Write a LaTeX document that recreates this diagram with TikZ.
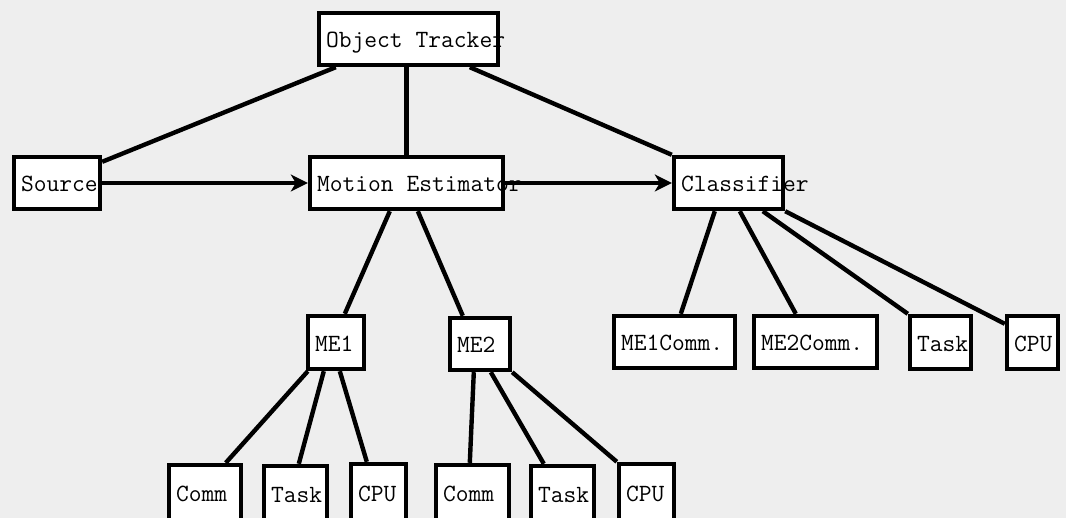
\documentclass[tikz,border=0pt]{standalone}
\usepackage{fontspec}
\usetikzlibrary{arrows.meta,calc}
\definecolor{bgc}{RGB}{238,238,238}
\tikzset{
  box/.style={draw, line width=4.4pt, fill=white, inner xsep=7pt, inner ysep=0pt,
    align=left, text height=20pt, text depth=2pt,
    font=\fontsize{24.8}{28}\selectfont\ttfamily},
  wire/.style={line width=4.4pt},
  flow/.style={line width=4.4pt, -{Stealth[length=17pt,width=17pt,inset=5pt]}}
}
% fixed-pitch word gap
\newcommand{\gap}{\hspace*{0.525em}}
% box macro: name, centre x, centre y (downwards), width, height, text
\newcommand{\bx}[6]{\node[box, text width=#4pt-14pt, minimum height=#5pt] (#1) at (#2,-#3) {\rlap{#6}};}
\begin{document}
\begin{tikzpicture}[x=1pt,y=1pt]
\fill[bgc] (0,0) rectangle (1066,-518);
\useasboundingbox (0,0) rectangle (1066,-518);

% top levels
\bx{ot}{408.5}{39}{179}{52}{Object\gap Tracker}
\bx{src}{57}{183}{86}{52}{Source}
\bx{me}{406.5}{183}{193}{52}{Motion\gap Estimator}
\bx{cls}{728.5}{183}{109}{52}{Classifier}

% estimator parts
\bx{meA}{336}{342.5}{56}{53}{ME1}
\bx{meB}{480}{344}{60}{52}{ME2}

% classifier parts
\bx{cA}{674.5}{342}{121}{52}{ME1Comm.}
\bx{cB}{815.5}{342}{123}{52}{ME2Comm.}
\bx{cT}{940.5}{342.5}{61}{53}{Task}
\bx{cC}{1032.5}{342.5}{51}{53}{CPU}

% leaf resources
\bx{aC}{205}{492.5}{72}{55}{Comm}
\bx{aT}{295.5}{493}{63}{54}{Task}
\bx{aP}{378.5}{492}{55}{56}{CPU}
\bx{bC}{472.5}{492.5}{73}{55}{Comm}
\bx{bT}{562.5}{493}{63}{54}{Task}
\bx{bP}{646.5}{492}{55}{56}{CPU}

% hierarchy links
\draw[wire] ($(ot.south west)+(19,0)$) -- ($(src.north east)+(0,-7)$);
\draw[wire] (me.north) -- (me.north |- ot.south);
\draw[wire] ($(ot.south west)+(153,0)$) -- (cls.north west);

\draw[wire] ($(me.south west)+(82,0)$) -- ($(meA.north west)+(39,0)$);
\draw[wire] ($(me.south west)+(110,0)$) -- ($(meB.north west)+(15,0)$);

\draw[wire] ($(meA.south west)+(2,0)$) -- ($(aC.north west)+(59,0)$);
\draw[wire] ($(meA.south west)+(18,0)$) -- ($(aT.north west)+(37,0)$);
\draw[wire] ($(meA.south west)+(34,0)$) -- ($(aP.north west)+(18,0)$);

\draw[wire] ($(meB.south west)+(26,0)$) -- ($(bC.north west)+(36,0)$);
\draw[wire] ($(meB.south west)+(43,0)$) -- ($(bT.north west)+(15,0)$);
\draw[wire] (meB.south east) -- (bP.north west);

\draw[wire] ($(cls.south west)+(43,0)$) -- ($(cA.north west)+(69,0)$);
\draw[wire] ($(cls.south west)+(68,0)$) -- ($(cB.north west)+(44,0)$);
\draw[wire] ($(cls.south west)+(91,0)$) -- (cT.north west);
\draw[wire] (cls.south east) -- ($(cC.north west)+(0,-10)$);

% data flow
\draw[flow] (src.east) -- (me.west);
\draw[flow] (me.east) -- (cls.west);
\end{tikzpicture}
\end{document}
